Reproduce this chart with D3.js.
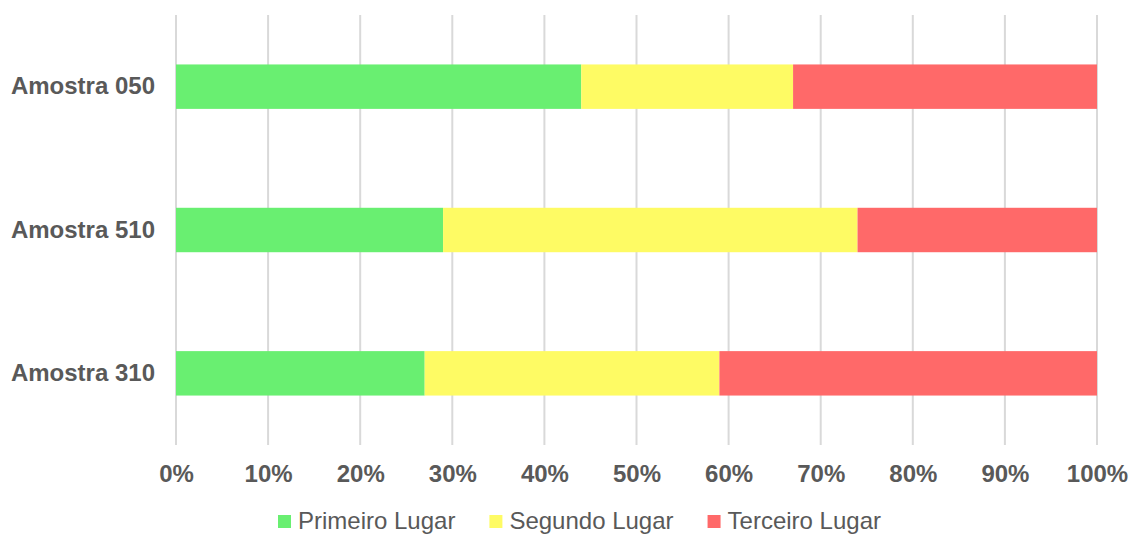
<!DOCTYPE html>
<html>
<head>
<meta charset="utf-8">
<script src="https://cdn.jsdelivr.net/npm/d3@7"></script>
<style>
  html, body { margin: 0; padding: 0; background: #fff; }
  svg { display: block; }
  text { font-family: "Liberation Sans", Arial, sans-serif; fill: #595959; }
</style>
</head>
<body>
<svg id="chart" width="1132" height="535"></svg>
<script>
const categories = ["Amostra 050", "Amostra 510", "Amostra 310"];
const seriesNames = ["Primeiro Lugar", "Segundo Lugar", "Terceiro Lugar"];
const primeiro = [44, 29, 27];
const segundo = [23, 45, 32];
const terceiro = [33, 26, 41];
const tickValues = [0, 0.1, 0.2, 0.3, 0.4, 0.5, 0.6, 0.7, 0.8, 0.9, 1.0];
const colors = ["#69EF71", "#FEFB64", "#FF6969"];

const svg = d3.select("#chart");
const mLeft = 176, mRight = 1097, mTop = 15, mBottom = 445;

const data = categories.map((c, i) => {
  const tot = primeiro[i] + segundo[i] + terceiro[i];
  return { cat: c, "Primeiro Lugar": primeiro[i] / tot, "Segundo Lugar": segundo[i] / tot, "Terceiro Lugar": terceiro[i] / tot };
});
const stacked = d3.stack().keys(seriesNames)(data);

const x = d3.scaleLinear().domain([0, 1]).range([mLeft, mRight]);
const y = d3.scaleBand().domain(categories).range([mTop, mBottom]).paddingInner(0.69).paddingOuter(0.345);

// gridlines
svg.append("g").selectAll("line").data(tickValues).join("line")
  .attr("x1", d => x(d)).attr("x2", d => x(d))
  .attr("y1", mTop).attr("y2", mBottom)
  .attr("stroke", "#d9d9d9").attr("stroke-width", 2);

// bars
svg.append("g").selectAll("g").data(stacked).join("g")
  .attr("fill", (d, i) => colors[i])
  .selectAll("rect").data(d => d).join("rect")
  .attr("x", d => x(d[0]))
  .attr("width", d => x(d[1]) - x(d[0]))
  .attr("y", d => y(d.data.cat))
  .attr("height", y.bandwidth());

// x axis labels
const xAxis = svg.append("g").attr("transform", `translate(0,${mBottom})`)
  .call(d3.axisBottom(x).tickValues(tickValues).tickFormat(d3.format(".0%")).tickSize(0).tickPadding(20));
xAxis.select(".domain").remove();
xAxis.selectAll("text").attr("font-size", 24).attr("font-weight", "bold")
  .attr("font-family", "'Liberation Sans', Arial, sans-serif").attr("fill", "#595959");

// y axis labels
const yAxis = svg.append("g").attr("transform", `translate(${mLeft},0)`)
  .call(d3.axisLeft(y).tickSize(0).tickPadding(21));
yAxis.select(".domain").remove();
yAxis.selectAll("text").attr("font-size", 24).attr("font-weight", "bold")
  .attr("font-family", "'Liberation Sans', Arial, sans-serif").attr("fill", "#595959");

// legend
const legend = svg.append("g").attr("transform", "translate(278,529)");
let lx = 0;
seriesNames.forEach((name, i) => {
  const g = legend.append("g").attr("transform", `translate(${lx},0)`);
  g.append("rect").attr("x", 0).attr("y", -14).attr("width", 13).attr("height", 13).attr("fill", colors[i]);
  const t = g.append("text").attr("x", 20).attr("y", 0).attr("font-size", 24).text(name);
  const w = t.node().getComputedTextLength();
  lx += 20 + w + 34;
});
</script>
</body>
</html>
